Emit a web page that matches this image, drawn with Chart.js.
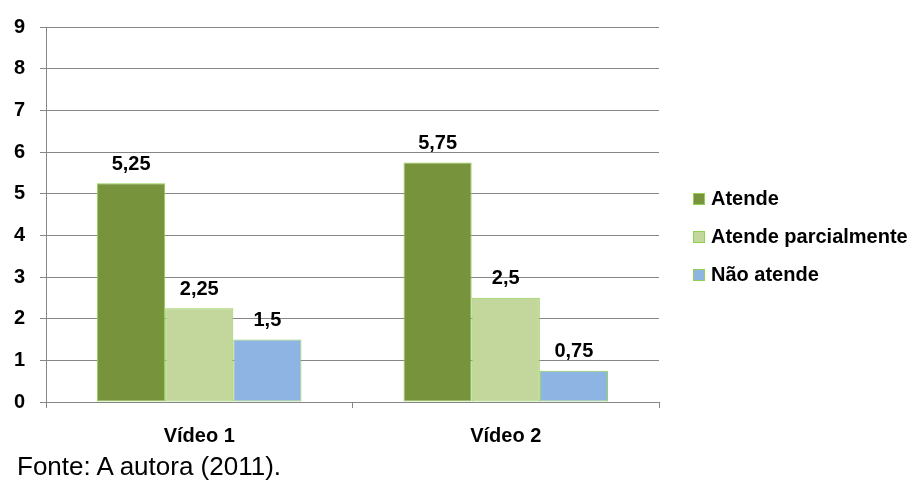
<!DOCTYPE html>
<html>
<head>
<meta charset="utf-8">
<script src="https://cdn.jsdelivr.net/npm/chart.js@4/dist/chart.umd.min.js"></script>
<style>
  html, body { margin: 0; padding: 0; background: #fff; }
  #wrap { position: relative; width: 923px; height: 481px; }
  #c { position: absolute; left: 0; top: 0; }
  #fonte { position: absolute; left: 17px; top: 451px; font: 26px "Liberation Sans", Arial, sans-serif; line-height: 30px; color: #000; white-space: nowrap; }
</style>
</head>
<body>
<div id="wrap">
  <canvas id="c" width="923" height="481"></canvas>
  <div id="fonte">Fonte: A autora (2011).</div>
</div>
<script>
const categories = ["Vídeo 1", "Vídeo 2"];
const seriesNames = ["Atende", "Atende parcialmente", "Não atende"];
const atende = [5.25, 5.75];
const atendeParcialmente = [2.25, 2.5];
const naoAtende = [1.5, 0.75];
const yTicks = [0, 1, 2, 3, 4, 5, 6, 7, 8, 9];

const FONT = '"Liberation Sans", Arial, sans-serif';
const colors = ["#77933C", "#C3D69B", "#8EB4E3"];
const borderCol = "#92D050";

const dataLabels = {
  id: 'dataLabels',
  afterDatasetsDraw(chart) {
    const ctx = chart.ctx;
    ctx.save();
    ctx.font = 'bold 20px ' + FONT;
    ctx.fillStyle = '#000';
    ctx.textAlign = 'center';
    ctx.textBaseline = 'middle';
    chart.data.datasets.forEach((ds, i) => {
      const meta = chart.getDatasetMeta(i);
      meta.data.forEach((el, j) => {
        const txt = String(ds.data[j]).replace('.', ',');
        ctx.fillText(txt, el.x, el.y - 19);
      });
    });
    ctx.restore();
  }
};

const customLegend = {
  id: 'customLegend',
  afterDraw(chart) {
    const ctx = chart.ctx;
    ctx.save();
    ctx.font = 'bold 20px ' + FONT;
    ctx.textBaseline = 'middle';
    ctx.textAlign = 'left';
    chart.data.datasets.forEach((ds, i) => {
      const cy = 199 + i * 38;
      ctx.fillStyle = borderCol;
      ctx.fillRect(693, cy - 6, 12, 12);
      ctx.fillStyle = ds.backgroundColor;
      ctx.fillRect(694, cy - 5, 10, 10);
      ctx.fillStyle = '#000';
      ctx.fillText(ds.label, 711, cy);
    });
    ctx.restore();
  }
};

new Chart(document.getElementById('c'), {
  type: 'bar',
  data: {
    labels: categories,
    datasets: [
      { label: seriesNames[0], data: atende, backgroundColor: colors[0] },
      { label: seriesNames[1], data: atendeParcialmente, backgroundColor: colors[1] },
      { label: seriesNames[2], data: naoAtende, backgroundColor: colors[2] }
    ].map(d => Object.assign(d, { borderColor: borderCol, borderWidth: 1, borderSkipped: false,
      categoryPercentage: 0.667, barPercentage: 1.0 }))
  },
  options: {
    responsive: false,
    animation: false,
    devicePixelRatio: 1,
    layout: { padding: { left: 0, right: 264, top: 22, bottom: 39 } },
    plugins: { legend: { display: false }, tooltip: { enabled: false }, title: { display: false } },
    scales: {
      x: {
        grid: { display: true, drawOnChartArea: false, drawTicks: true, tickLength: 6, color: '#868686', offset: true },
        border: { display: true, color: '#868686', width: 1 },
        ticks: { color: '#000', font: { family: FONT, size: 20, weight: 'bold' }, padding: 16, maxRotation: 0 },
        afterFit(s) { s.height = 40; }
      },
      y: {
        min: 0, max: 9,
        afterBuildTicks(s) { s.ticks = yTicks.map(v => ({ value: v })); },
        grid: { color: '#868686', lineWidth: 1, drawTicks: true, tickLength: 6 },
        border: { display: true, color: '#868686', width: 1 },
        ticks: { color: '#000', font: { family: FONT, size: 20, weight: 'bold' }, padding: 15,
          callback: v => String(v) },
        afterFit(s) { s.width = 46; }
      }
    }
  },
  plugins: [dataLabels, customLegend]
});
</script>
</body>
</html>
